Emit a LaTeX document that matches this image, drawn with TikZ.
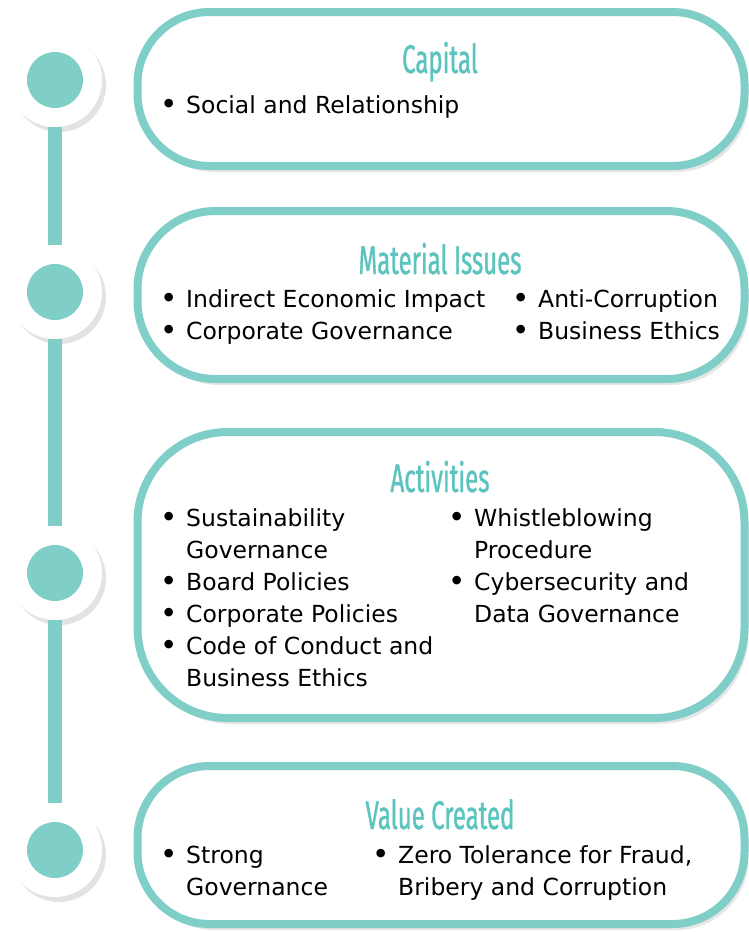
\documentclass[tikz,border=0pt]{standalone}
\usepackage{fontspec}
\setmainfont{DejaVu Sans}
\newfontfamily\headfont[FakeStretch=0.6,FakeBold=0.9]{Fira Sans}
\usepackage{array}
\usetikzlibrary{positioning}
\usetikzlibrary{shadows}

\definecolor{tealline}{RGB}{127,206,200}
\definecolor{tealhead}{RGB}{92,196,190}

% bullet column of the lists
\newcolumntype{B}{@{}p{26pt}@{}}
\newcommand{\dotmark}{\raisebox{-1pt}{\scalebox{1.25}{\textbullet}}}

\begin{document}
\begin{tikzpicture}[x=1pt,y=-1pt,
	panel/.style={draw=tealline,line width=8pt,fill=white,rounded corners=#1,
		minimum width=607pt,
		drop shadow={opacity=.2,shadow xshift=4pt,shadow yshift=-6pt}},
	panel/.default=72pt,
	knob/.style={circle,fill=white,minimum size=94pt,inner sep=0pt,
		drop shadow={opacity=.22,shadow xshift=4pt,shadow yshift=-5pt},
		path picture={\fill[tealline] (path picture bounding box.center) circle[radius=28pt];}},
	spine/.style={tealline,line width=14pt},
	heading/.style={font=\headfont\fontsize{40}{40}\selectfont,text=tealhead,anchor=base,inner sep=0pt},
	list/.style={font=\fontsize{23.5}{32}\selectfont,anchor=base west,inner sep=0pt}]

	\useasboundingbox (0,0) rectangle (748,932);

	%panels
	\node[panel,minimum height=154pt] (capbox) at (441,89) {};
	\node[panel=78pt,minimum height=168pt] (matbox) at (441,295) {};
	\node[panel=90pt,minimum height=286pt] (actbox) at (441,575) {};
	\node[panel,minimum height=158pt] (valbox) at (441,845) {};

	%timeline
	\node[knob] (k1) at (55,80) {};
	\node[knob] (k2) at (55,292) {};
	\node[knob] (k3) at (55,573) {};
	\node[knob] (k4) at (55,850) {};
	\draw[spine] (k1) -- (k2);
	\draw[spine] (k2) -- (k3);
	\draw[spine] (k3) -- (k4);

	%Capital
	\node[heading] (caphead) at (440,73) {Capital};
	\node[list] (capl) at (160,113) {\begin{tabular}[t]{Bl@{}}
		\dotmark & Social and Relationship
	\end{tabular}};

	%Material Issues
	\node[heading] (mathead) at (440,274) {Material Issues};
	\node[list] (matl) at (160,307) {\begin{tabular}[t]{Bl@{}}
		\dotmark & Indirect Economic Impact\\
		\dotmark & Corporate Governance
	\end{tabular}};
	\node[list] (matr) at (512,307) {\begin{tabular}[t]{Bl@{}}
		\dotmark & Anti-Corruption\\
		\dotmark & Business Ethics
	\end{tabular}};

	%Activities
	\node[heading] (acthead) at (440,492) {Activities};
	\node[list] (actl) at (160,526) {\begin{tabular}[t]{Bl@{}}
		\dotmark & Sustainability\\
		 & Governance\\
		\dotmark & Board Policies\\
		\dotmark & Corporate Policies\\
		\dotmark & Code of Conduct and\\
		 & Business Ethics
	\end{tabular}};
	\node[list] (actr) at (448,526) {\begin{tabular}[t]{Bl@{}}
		\dotmark & Whistleblowing\\
		 & Procedure\\
		\dotmark & Cybersecurity and\\
		 & Data Governance
	\end{tabular}};

	%Value Created
	\node[heading] (valhead) at (440,829) {Value Created};
	\node[list] (vall) at (160,863) {\begin{tabular}[t]{Bl@{}}
		\dotmark & Strong\\
		 & Governance
	\end{tabular}};
	\node[list] (valr) at (372,863) {\begin{tabular}[t]{Bl@{}}
		\dotmark & Zero Tolerance for Fraud,\\
		 & Bribery and Corruption
	\end{tabular}};

\end{tikzpicture}
\end{document}
